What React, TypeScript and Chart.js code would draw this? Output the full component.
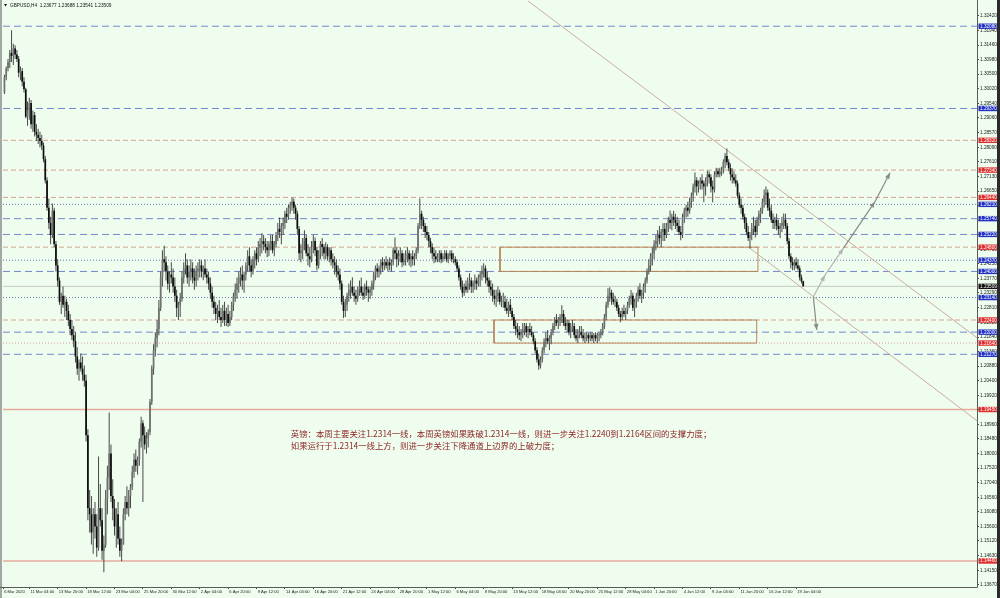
import { useEffect, useRef } from "react";
import { Chart, registerables } from "chart.js";

Chart.register(...registerables);
Chart.defaults.font.family = '"Liberation Sans", "DejaVu Sans", Arial, sans-serif';

// ---------------- DATA ----------------
const TITLE_TEXT = "GBPUSD,H4  1.23677 1.23688 1.23541 1.23509";

// bar index of the first candle (6 Mar 2020 20:00, H4 bars counted from 6 Mar 00:00)
const FIRST_BAR_INDEX = 5;
const FIRST_OPEN = 1.299;

const HIGHS = [
  1.3048,
  1.3075, 1.31, 1.313, 1.3195, 1.315, 1.3145,
  1.313, 1.311, 1.3075, 1.307, 1.304, 1.3005,
  1.296, 1.2972, 1.2965, 1.293, 1.2925, 1.2885,
  1.287, 1.286, 1.285, 1.2825, 1.278, 1.271,
  1.264, 1.258, 1.2624, 1.261, 1.25, 1.244,
  1.238, 1.233, 1.235, 1.232, 1.231, 1.229,
  1.226, 1.224, 1.222, 1.22, 1.215, 1.211,
  1.213, 1.212, 1.209, 1.206, 1.188, 1.168,
  1.166, 1.162, 1.164, 1.16, 1.179, 1.17,
  1.162, 1.153, 1.168, 1.176, 1.1935, 1.183,
  1.1715, 1.165, 1.162, 1.164, 1.156, 1.152,
  1.162, 1.166, 1.1692, 1.168, 1.17, 1.176,
  1.18, 1.1813, 1.179, 1.185, 1.1921, 1.191,
  1.1889, 1.187, 1.188, 1.198, 1.209, 1.216,
  1.22, 1.224, 1.2306, 1.24, 1.247, 1.2485,
  1.245, 1.242, 1.24, 1.243, 1.241, 1.238,
  1.234, 1.23, 1.233, 1.24, 1.243, 1.246,
  1.244, 1.242, 1.244, 1.243, 1.241, 1.242,
  1.243, 1.244, 1.2437, 1.242, 1.244, 1.241,
  1.24, 1.238, 1.235, 1.232, 1.23, 1.229,
  1.2306, 1.228, 1.229, 1.23, 1.228, 1.229,
  1.227, 1.23, 1.233, 1.236, 1.238, 1.24,
  1.2414, 1.242, 1.24, 1.243, 1.247, 1.248,
  1.244, 1.245, 1.247, 1.248, 1.25, 1.251,
  1.2526, 1.252, 1.251, 1.25, 1.25, 1.252,
  1.252, 1.25, 1.253, 1.256, 1.2578, 1.256,
  1.2578, 1.26, 1.261, 1.262, 1.263, 1.2644,
  1.264, 1.262, 1.26, 1.255, 1.249, 1.251,
  1.2536, 1.252, 1.249, 1.248, 1.25, 1.252,
  1.2512, 1.248, 1.247, 1.25, 1.251, 1.249,
  1.2496, 1.249, 1.248, 1.248, 1.246, 1.245,
  1.244, 1.242, 1.241, 1.237, 1.232, 1.231,
  1.233, 1.236, 1.237, 1.2381, 1.235, 1.234,
  1.235, 1.237, 1.238, 1.235, 1.236, 1.237,
  1.235, 1.235, 1.237, 1.24, 1.242, 1.2427,
  1.242, 1.244, 1.2447, 1.244, 1.245, 1.244,
  1.2447, 1.244, 1.248, 1.2512, 1.248, 1.247,
  1.248, 1.247, 1.246, 1.247, 1.248, 1.247,
  1.246, 1.247, 1.246, 1.248, 1.256, 1.264,
  1.26, 1.258, 1.256, 1.255, 1.253, 1.251,
  1.2493, 1.248, 1.247, 1.246, 1.247, 1.247,
  1.246, 1.247, 1.247, 1.246, 1.247, 1.247,
  1.246, 1.245, 1.244, 1.242, 1.239, 1.237,
  1.236, 1.237, 1.238, 1.2394, 1.238, 1.237,
  1.239, 1.238, 1.239, 1.24, 1.242, 1.2427,
  1.242, 1.24, 1.238, 1.2371, 1.236, 1.234,
  1.234, 1.235, 1.234, 1.232, 1.233, 1.232,
  1.231, 1.23, 1.231, 1.228, 1.226, 1.224,
  1.223, 1.222, 1.221, 1.223, 1.223, 1.223,
  1.222, 1.223, 1.222, 1.22, 1.218, 1.215,
  1.213, 1.212, 1.215, 1.218, 1.22, 1.2207,
  1.219, 1.221, 1.223, 1.225, 1.226, 1.225,
  1.226, 1.2289, 1.2273, 1.225, 1.224, 1.224,
  1.223, 1.224, 1.223, 1.221, 1.221, 1.222,
  1.222, 1.221, 1.22, 1.22, 1.2197, 1.22,
  1.22, 1.2197, 1.22, 1.2197, 1.22, 1.221,
  1.223, 1.226, 1.23, 1.2345, 1.2348, 1.234,
  1.233, 1.232, 1.231, 1.229, 1.227, 1.228,
  1.229, 1.228, 1.23, 1.232, 1.2339, 1.233,
  1.231, 1.233, 1.235, 1.2361, 1.234, 1.236,
  1.238, 1.241, 1.244, 1.246, 1.248, 1.2503,
  1.252, 1.2536, 1.255, 1.254, 1.2559, 1.256,
  1.256, 1.258, 1.2601, 1.259, 1.26, 1.259,
  1.258, 1.257, 1.255, 1.259, 1.261, 1.262,
  1.263, 1.2644, 1.266, 1.269, 1.2726, 1.271,
  1.27, 1.271, 1.272, 1.27, 1.271, 1.2733,
  1.273, 1.272, 1.27, 1.273, 1.2742, 1.274,
  1.2742, 1.2745, 1.277, 1.279, 1.2805, 1.277,
  1.2756, 1.274, 1.273, 1.272, 1.27, 1.266,
  1.264, 1.262, 1.259, 1.2578, 1.255, 1.253,
  1.256, 1.258, 1.257, 1.258, 1.2601, 1.261,
  1.264, 1.267, 1.268, 1.267, 1.264, 1.262,
  1.2591, 1.258, 1.259, 1.257, 1.256, 1.258,
  1.2591, 1.259, 1.256, 1.251, 1.246, 1.2447,
  1.244, 1.2447, 1.244, 1.242, 1.239, 1.2369,
];

const LOWS = [
  1.2985,
  1.303, 1.306, 1.307, 1.309, 1.308, 1.31,
  1.309, 1.304, 1.303, 1.301, 1.299, 1.2905,
  1.288, 1.29, 1.287, 1.286, 1.2845, 1.283,
  1.282, 1.2808, 1.28, 1.276, 1.269, 1.26,
  1.254, 1.249, 1.251, 1.248, 1.24, 1.235,
  1.229, 1.226, 1.228, 1.225, 1.224, 1.222,
  1.219, 1.2174, 1.215, 1.21, 1.206, 1.204,
  1.207, 1.204, 1.202, 1.184, 1.158, 1.154,
  1.15, 1.147, 1.152, 1.146, 1.148, 1.156,
  1.145, 1.1409, 1.149, 1.16, 1.168, 1.164,
  1.158, 1.153, 1.149, 1.15, 1.146, 1.1445,
  1.15, 1.158, 1.16, 1.1593, 1.162, 1.168,
  1.172, 1.174, 1.173, 1.176, 1.182, 1.164,
  1.1813, 1.18, 1.182, 1.186, 1.196, 1.206,
  1.212, 1.215, 1.219, 1.227, 1.235, 1.24,
  1.237, 1.234, 1.233, 1.236, 1.233, 1.23,
  1.225, 1.224, 1.225, 1.23, 1.236, 1.239,
  1.236, 1.235, 1.237, 1.236, 1.234, 1.235,
  1.237, 1.238, 1.238, 1.2371, 1.238, 1.236,
  1.234, 1.231, 1.228, 1.226, 1.224, 1.223,
  1.224, 1.2217, 1.223, 1.222, 1.222, 1.2217,
  1.222, 1.224, 1.227, 1.23, 1.231, 1.233,
  1.235, 1.234, 1.233, 1.237, 1.24, 1.24,
  1.2381, 1.239, 1.241, 1.242, 1.243, 1.245,
  1.246, 1.247, 1.246, 1.2447, 1.245, 1.247,
  1.246, 1.245, 1.248, 1.25, 1.251, 1.249,
  1.252, 1.254, 1.256, 1.257, 1.259, 1.26,
  1.259, 1.257, 1.252, 1.2437, 1.243, 1.244,
  1.247, 1.245, 1.242, 1.2414, 1.243, 1.246,
  1.245, 1.2404, 1.241, 1.244, 1.245, 1.244,
  1.244, 1.2437, 1.243, 1.242, 1.241, 1.239,
  1.2381, 1.237, 1.234, 1.229, 1.2247, 1.225,
  1.227, 1.23, 1.231, 1.232, 1.23, 1.229,
  1.23, 1.232, 1.232, 1.2306, 1.231, 1.232,
  1.23, 1.231, 1.232, 1.234, 1.2371, 1.238,
  1.238, 1.239, 1.24, 1.2404, 1.241, 1.24,
  1.2404, 1.24, 1.242, 1.244, 1.2414, 1.242,
  1.243, 1.2414, 1.242, 1.242, 1.243, 1.242,
  1.2414, 1.242, 1.242, 1.244, 1.246, 1.254,
  1.254, 1.253, 1.251, 1.2503, 1.248, 1.246,
  1.244, 1.2427, 1.243, 1.243, 1.243, 1.2427,
  1.243, 1.244, 1.243, 1.2427, 1.244, 1.243,
  1.2427, 1.242, 1.24, 1.237, 1.234, 1.2316,
  1.232, 1.233, 1.233, 1.234, 1.2329, 1.233,
  1.234, 1.234, 1.235, 1.235, 1.237, 1.238,
  1.236, 1.235, 1.233, 1.232, 1.23, 1.229,
  1.2283, 1.23, 1.229, 1.2283, 1.228, 1.227,
  1.226, 1.225, 1.226, 1.224, 1.221, 1.219,
  1.218, 1.2174, 1.217, 1.218, 1.219, 1.2184,
  1.218, 1.219, 1.2184, 1.216, 1.213, 1.21,
  1.2076, 1.208, 1.21, 1.213, 1.215, 1.216,
  1.2141, 1.216, 1.219, 1.2207, 1.222, 1.221,
  1.222, 1.223, 1.222, 1.2207, 1.22, 1.219,
  1.218, 1.22, 1.218, 1.217, 1.2164, 1.218,
  1.218, 1.217, 1.2164, 1.217, 1.2164, 1.217,
  1.217, 1.2164, 1.217, 1.2164, 1.217, 1.218,
  1.219, 1.221, 1.224, 1.228, 1.23, 1.229,
  1.229, 1.2283, 1.227, 1.225, 1.2233, 1.224,
  1.225, 1.224, 1.226, 1.228, 1.229, 1.227,
  1.225, 1.228, 1.23, 1.231, 1.2296, 1.231,
  1.233, 1.236, 1.239, 1.24, 1.242, 1.244,
  1.247, 1.248, 1.249, 1.248, 1.25, 1.25,
  1.251, 1.253, 1.254, 1.2536, 1.255, 1.254,
  1.253, 1.252, 1.2503, 1.251, 1.256, 1.2578,
  1.258, 1.259, 1.261, 1.263, 1.266, 1.265,
  1.266, 1.267, 1.267, 1.2628, 1.265, 1.268,
  1.269, 1.266, 1.2628, 1.266, 1.271, 1.271,
  1.271, 1.2715, 1.2723, 1.274, 1.275, 1.273,
  1.27, 1.269, 1.269, 1.268, 1.264, 1.261,
  1.259, 1.257, 1.254, 1.252, 1.25, 1.2476,
  1.2503, 1.252, 1.2512, 1.252, 1.255, 1.256,
  1.259, 1.261, 1.262, 1.26, 1.258, 1.256,
  1.254, 1.254, 1.2536, 1.252, 1.251, 1.253,
  1.254, 1.254, 1.249, 1.244, 1.241, 1.2404,
  1.2404, 1.241, 1.2404, 1.237, 1.236, 1.235,
];

const CLOSES = [
  1.304,
  1.307, 1.309, 1.312, 1.311, 1.3135, 1.3115,
  1.31, 1.3055, 1.306, 1.3025, 1.3, 1.291,
  1.293, 1.2955, 1.2885, 1.2915, 1.286, 1.285,
  1.284, 1.283, 1.2815, 1.277, 1.27, 1.261,
  1.256, 1.252, 1.26, 1.249, 1.242, 1.237,
  1.23, 1.232, 1.229, 1.23, 1.227, 1.224,
  1.221, 1.219, 1.217, 1.212, 1.208, 1.21,
  1.208, 1.206, 1.204, 1.186, 1.162, 1.16,
  1.154, 1.16, 1.156, 1.149, 1.162, 1.158,
  1.148, 1.15, 1.165, 1.172, 1.18, 1.166,
  1.162, 1.156, 1.16, 1.152, 1.148, 1.15,
  1.16, 1.164, 1.162, 1.166, 1.169, 1.174,
  1.178, 1.176, 1.178, 1.184, 1.19, 1.186,
  1.183, 1.185, 1.187, 1.197, 1.208, 1.214,
  1.218, 1.221, 1.228, 1.238, 1.244, 1.243,
  1.24, 1.236, 1.239, 1.238, 1.235, 1.232,
  1.228, 1.229, 1.231, 1.238, 1.241, 1.242,
  1.238, 1.24, 1.241, 1.238, 1.237, 1.24,
  1.241, 1.242, 1.24, 1.241, 1.239, 1.238,
  1.236, 1.233, 1.23, 1.228, 1.226, 1.227,
  1.225, 1.224, 1.227, 1.224, 1.226, 1.223,
  1.225, 1.229, 1.232, 1.234, 1.236, 1.238,
  1.239, 1.237, 1.239, 1.242, 1.245, 1.242,
  1.24, 1.244, 1.246, 1.244, 1.248, 1.249,
  1.25, 1.249, 1.248, 1.247, 1.249, 1.25,
  1.247, 1.249, 1.252, 1.254, 1.253, 1.255,
  1.256, 1.259, 1.258, 1.261, 1.262, 1.263,
  1.261, 1.259, 1.254, 1.246, 1.247, 1.25,
  1.251, 1.246, 1.245, 1.244, 1.248, 1.25,
  1.247, 1.242, 1.246, 1.249, 1.248, 1.246,
  1.248, 1.245, 1.247, 1.244, 1.243, 1.242,
  1.24, 1.239, 1.236, 1.23, 1.227, 1.229,
  1.232, 1.234, 1.235, 1.233, 1.232, 1.231,
  1.234, 1.235, 1.233, 1.232, 1.235, 1.234,
  1.233, 1.234, 1.236, 1.239, 1.241, 1.24,
  1.241, 1.243, 1.242, 1.243, 1.242, 1.243,
  1.242, 1.243, 1.247, 1.246, 1.244, 1.245,
  1.246, 1.243, 1.244, 1.245, 1.246, 1.244,
  1.245, 1.244, 1.245, 1.247, 1.255, 1.259,
  1.257, 1.255, 1.253, 1.252, 1.25, 1.248,
  1.246, 1.245, 1.244, 1.245, 1.246, 1.244,
  1.245, 1.246, 1.244, 1.245, 1.246, 1.244,
  1.244, 1.243, 1.241, 1.238, 1.235, 1.233,
  1.235, 1.234, 1.236, 1.237, 1.235, 1.236,
  1.237, 1.236, 1.238, 1.239, 1.24, 1.241,
  1.238, 1.237, 1.235, 1.234, 1.232, 1.231,
  1.232, 1.233, 1.23, 1.23, 1.23, 1.228,
  1.227, 1.229, 1.227, 1.225, 1.222, 1.221,
  1.22, 1.219, 1.22, 1.221, 1.222, 1.22,
  1.221, 1.22, 1.219, 1.217, 1.214, 1.211,
  1.209, 1.211, 1.214, 1.217, 1.218, 1.217,
  1.218, 1.22, 1.222, 1.224, 1.223, 1.224,
  1.225, 1.226, 1.223, 1.222, 1.223, 1.22,
  1.221, 1.222, 1.219, 1.218, 1.219, 1.22,
  1.219, 1.218, 1.218, 1.219, 1.218, 1.219,
  1.218, 1.219, 1.218, 1.219, 1.219, 1.22,
  1.222, 1.225, 1.229, 1.232, 1.233, 1.231,
  1.23, 1.23, 1.228, 1.226, 1.225, 1.227,
  1.226, 1.227, 1.229, 1.231, 1.232, 1.228,
  1.23, 1.232, 1.234, 1.232, 1.233, 1.235,
  1.237, 1.24, 1.242, 1.245, 1.246, 1.249,
  1.25, 1.252, 1.251, 1.253, 1.254, 1.252,
  1.255, 1.257, 1.256, 1.258, 1.257, 1.256,
  1.255, 1.253, 1.252, 1.258, 1.26, 1.261,
  1.26, 1.263, 1.265, 1.268, 1.27, 1.268,
  1.269, 1.27, 1.269, 1.268, 1.27, 1.272,
  1.271, 1.268, 1.267, 1.272, 1.273, 1.272,
  1.273, 1.2735, 1.276, 1.278, 1.276, 1.274,
  1.272, 1.271, 1.27, 1.269, 1.265, 1.262,
  1.261, 1.258, 1.256, 1.253, 1.251, 1.252,
  1.254, 1.255, 1.253, 1.257, 1.259, 1.26,
  1.263, 1.265, 1.266, 1.261, 1.26, 1.257,
  1.256, 1.257, 1.255, 1.254, 1.255, 1.256,
  1.257, 1.255, 1.25, 1.245, 1.243, 1.242,
  1.243, 1.242, 1.241, 1.238, 1.2368, 1.2351,
];

// x-axis: tick positions (bar index) and their labels
const X_TICK_POS = [4.18, 19, 35, 51, 67, 83, 99, 115, 131, 147, 163, 179, 195, 211, 227, 243, 259, 275, 291, 307, 323, 339, 355, 371, 387, 403, 419, 435, 451];
const X_TICK_LABELS = [
  "6 Mar 2020", "11 Mar 04:00", "13 Mar 20:00", "18 Mar 12:00", "23 Mar 04:00", "25 Mar 20:00",
  "30 Mar 12:00", "2 Apr 04:00", "6 Apr 20:00", "9 Apr 12:00", "14 Apr 04:00", "16 Apr 20:00",
  "21 Apr 12:00", "24 Apr 04:00", "28 Apr 20:00", "1 May 12:00", "6 May 04:00", "8 May 20:00",
  "13 May 12:00", "18 May 04:00", "20 May 20:00", "25 May 12:00", "28 May 04:00", "1 Jun 20:00",
  "4 Jun 12:00", "9 Jun 04:00", "11 Jun 20:00", "16 Jun 12:00", "19 Jun 04:00",
];

// price axis tick values
const Y_TICK_VALUES = [
  1.3242, 1.3194, 1.3146, 1.3098, 1.305, 1.3002, 1.2954, 1.2906, 1.2857, 1.2809,
  1.2761, 1.2713, 1.2665, 1.2617, 1.2569, 1.2521, 1.2473, 1.2425, 1.2377, 1.2329,
  1.2281, 1.2232, 1.2184, 1.2136, 1.2088, 1.204, 1.1992, 1.1944, 1.1896, 1.1848,
  1.18, 1.1752, 1.1704, 1.1656, 1.1608, 1.156, 1.1512, 1.1463, 1.1415, 1.1367,
];

// horizontal support / resistance levels
const LEVEL_PRICES = [
  1.3208, 1.2937, 1.2832, 1.2734, 1.2644, 1.2621, 1.2574, 1.2522, 1.248,
  1.2437, 1.24, 1.2314, 1.224, 1.22, 1.2164, 1.2127, 1.1945, 1.1446,
];
const LEVEL_KINDS = [
  "blueDash", "blueDash", "redDash", "redDash", "redDash", "blueDot", "blueDash", "blueDash", "redDash",
  "blueDot", "blueDash", "blueDot", "redDash", "blueDash", "redDot", "blueDash", "redSolid", "redSolid",
];
const BID_PRICE = 1.23509;

// zones (bar index from/to, price from/to)
const ZONE_X0 = [284.2, 280.8];
const ZONE_X1 = [429.5, 428.8];
const ZONE_P0 = [1.24, 1.2164];
const ZONE_P1 = [1.248, 1.224];

// channel lines (bar index / price pairs)
const UPPER_LINE_X = [299.2, 552.9];
const UPPER_LINE_P = [1.32944, 1.21815];
const LOWER_LINE_X = [425.0, 552.9];
const LOWER_LINE_P = [1.24762, 1.19079];

// projection arrows
const ARROW_UP_X = [460.7, 467.3, 477.6, 495.4, 503.9];
const ARROW_UP_P = [1.23168, 1.23883, 1.24762, 1.26298, 1.27253];
const ARROW_DOWN_X = [460.7, 462.6];
const ARROW_DOWN_P = [1.23168, 1.22071];

// comment text
const NOTE_LINES = [
  "英镑：本周主要关注1.2314一线，本周英镑如果跌破1.2314一线，则进一步关注1.2240到1.2164区间的支撑力度；",
  "如果运行于1.2314一线上方，则进一步关注下降通道上边界的上破力度；",
];
const NOTE_X = 166.3;
const NOTE_P = [1.18644, 1.18248];

// view window
const X_MIN = 4.18;
const X_MAX = 552.9;
const Y_MIN = 1.13603;
const Y_MAX = 1.32911;

// ---------------- STYLE ----------------
const BG = "#effdef";
const LEVEL_STYLE: Record<string, { color: string; dash: number[]; width: number; box: string }> = {
  blueDash: { color: "#7487c9", dash: [7, 4], width: 1, box: "#2232c4" },
  blueDot: { color: "#6676b8", dash: [1, 2], width: 1, box: "#2232c4" },
  redDash: { color: "#d6a38e", dash: [5, 3], width: 1, box: "#de2d2d" },
  redDot: { color: "#d99c92", dash: [1, 2], width: 1, box: "#de2d2d" },
  redSolid: { color: "#e6aa9c", dash: [], width: 1.6, box: "#de2d2d" },
};
const SMALL_FONT = '4.7px "Liberation Sans", Arial, sans-serif';

function drawHead(ctx: CanvasRenderingContext2D, x0: number, y0: number, x1: number, y1: number, color: string) {
  const a = Math.atan2(y1 - y0, x1 - x0);
  const L = 6;
  const W = 2.4;
  ctx.fillStyle = color;
  ctx.beginPath();
  ctx.moveTo(x1, y1);
  ctx.lineTo(x1 - L * Math.cos(a) + W * Math.sin(a), y1 - L * Math.sin(a) - W * Math.cos(a));
  ctx.lineTo(x1 - L * Math.cos(a) - W * Math.sin(a), y1 - L * Math.sin(a) + W * Math.cos(a));
  ctx.closePath();
  ctx.fill();
}

const decorPlugin = {
  id: "decor",
  beforeDraw(chart: any) {
    const { ctx, width, height } = chart;
    ctx.save();
    ctx.fillStyle = BG;
    ctx.fillRect(0, 0, width, height);
    ctx.fillStyle = "#a4a8a4";
    ctx.fillRect(0, 0, 2, height);
    ctx.fillStyle = "#2b2b2b";
    ctx.fillRect(width - 3, 0, 3, height);
    ctx.restore();
  },
  afterDatasetsDraw(chart: any) {
    const { ctx, chartArea } = chart;
    const xs = chart.scales.x;
    const ys = chart.scales.y;
    ctx.save();
    // arrow heads
    const upColors = ["#b4b4b4", "#b4b4b4", "#8a8a8a", "#8a8a8a"];
    for (let k = 1; k < ARROW_UP_X.length; k++) {
      drawHead(
        ctx,
        xs.getPixelForValue(ARROW_UP_X[k - 1]), ys.getPixelForValue(ARROW_UP_P[k - 1]),
        xs.getPixelForValue(ARROW_UP_X[k]), ys.getPixelForValue(ARROW_UP_P[k]),
        upColors[k - 1]
      );
    }
    drawHead(
      ctx,
      xs.getPixelForValue(ARROW_DOWN_X[0]), ys.getPixelForValue(ARROW_DOWN_P[0]),
      xs.getPixelForValue(ARROW_DOWN_X[1]), ys.getPixelForValue(ARROW_DOWN_P[1]),
      "#8a8a8a"
    );
    // note text
    ctx.fillStyle = "#8e2727";
    ctx.font = '8.4px "Noto Sans CJK SC", sans-serif';
    ctx.textBaseline = "middle";
    ctx.textAlign = "left";
    NOTE_LINES.forEach((t, k) => {
      ctx.fillText(t, xs.getPixelForValue(NOTE_X), ys.getPixelForValue(NOTE_P[k]));
    });
    // title
    ctx.fillStyle = "#111";
    ctx.beginPath();
    ctx.moveTo(chartArea.left + 1, 4);
    ctx.lineTo(chartArea.left + 4, 4);
    ctx.lineTo(chartArea.left + 2.5, 6.5);
    ctx.closePath();
    ctx.fill();
    ctx.font = SMALL_FONT;
    ctx.fillText(TITLE_TEXT, chartArea.left + 7, 5.3);
    ctx.restore();
  },
  afterDraw(chart: any) {
    const { ctx, chartArea, width } = chart;
    const ys = chart.scales.y;
    ctx.save();
    ctx.strokeStyle = "#5a5a5a";
    ctx.lineWidth = 1;
    ctx.beginPath();
    ctx.moveTo(chartArea.right + 0.5, 0);
    ctx.lineTo(chartArea.right + 0.5, chartArea.bottom + 0.5);
    ctx.lineTo(0, chartArea.bottom + 0.5);
    ctx.stroke();
    // level tags on the price axis
    const x0 = chartArea.right + 1.5;
    const w = width - 3 - x0;
    const tag = (p: number, color: string) => {
      const y = ys.getPixelForValue(p);
      ctx.fillStyle = color;
      ctx.fillRect(x0, y - 2.7, w, 5.4);
      ctx.fillStyle = "#ffffff";
      ctx.font = SMALL_FONT;
      ctx.textBaseline = "middle";
      ctx.textAlign = "left";
      ctx.fillText(p.toFixed(5), x0 + 1.5, y + 0.2);
    };
    LEVEL_PRICES.forEach((p, k) => tag(p, LEVEL_STYLE[LEVEL_KINDS[k]].box));
    tag(BID_PRICE, "#111111");
    ctx.restore();
  },
};

export default function App() {
  const ref = useRef<HTMLCanvasElement | null>(null);

  useEffect(() => {
    if (!ref.current) return;
    const n = Math.min(HIGHS.length, LOWS.length, CLOSES.length);
    const opens: number[] = [];
    for (let k = 0; k < n; k++) opens.push(k === 0 ? FIRST_OPEN : CLOSES[k - 1]);
    const wicks = [];
    const bodies = [];
    const bodyColors: string[] = [];
    for (let k = 0; k < n; k++) {
      wicks.push({ x: FIRST_BAR_INDEX + k, y: [LOWS[k], HIGHS[k]] });
      bodies.push({ x: FIRST_BAR_INDEX + k, y: [opens[k], CLOSES[k]] });
      bodyColors.push(CLOSES[k] >= opens[k] ? "#6f726f" : "#0c0c0c");
    }

    const lineBase = { type: "line", pointRadius: 0, pointHoverRadius: 0, tension: 0, fill: false };
    const datasets: any[] = [];

    LEVEL_PRICES.forEach((p, k) => {
      const st = LEVEL_STYLE[LEVEL_KINDS[k]];
      datasets.push({
        ...lineBase,
        data: [{ x: X_MIN, y: p }, { x: X_MAX, y: p }],
        borderColor: st.color,
        borderDash: st.dash,
        borderWidth: st.width,
        order: 10,
      });
    });
    datasets.push({
      ...lineBase,
      data: [{ x: X_MIN, y: BID_PRICE }, { x: X_MAX, y: BID_PRICE }],
      borderColor: "#c6c9c6",
      borderWidth: 1,
      order: 10,
    });
    ZONE_X0.forEach((x0, k) => {
      const x1 = ZONE_X1[k];
      const p0 = ZONE_P0[k];
      const p1 = ZONE_P1[k];
      datasets.push({
        ...lineBase,
        data: [{ x: x0, y: p0 }, { x: x1, y: p0 }, { x: x1, y: p1 }, { x: x0, y: p1 }, { x: x0, y: p0 }],
        borderColor: "#b7865c",
        borderWidth: 1,
        order: 8,
      });
    });
    datasets.push({
      ...lineBase,
      data: UPPER_LINE_X.map((x, k) => ({ x, y: UPPER_LINE_P[k] })),
      borderColor: "#c9ad9f",
      borderWidth: 1,
      order: 7,
    });
    datasets.push({
      ...lineBase,
      data: LOWER_LINE_X.map((x, k) => ({ x, y: LOWER_LINE_P[k] })),
      borderColor: "#c9ad9f",
      borderWidth: 1,
      order: 7,
    });
    const upColors = ["#b4b4b4", "#b4b4b4", "#8a8a8a", "#8a8a8a"];
    for (let k = 1; k < ARROW_UP_X.length; k++) {
      datasets.push({
        ...lineBase,
        data: [{ x: ARROW_UP_X[k - 1], y: ARROW_UP_P[k - 1] }, { x: ARROW_UP_X[k], y: ARROW_UP_P[k] }],
        borderColor: upColors[k - 1],
        borderWidth: 1.2,
        order: 6,
      });
    }
    datasets.push({
      ...lineBase,
      data: ARROW_DOWN_X.map((x, k) => ({ x, y: ARROW_DOWN_P[k] })),
      borderColor: "#8a8a8a",
      borderWidth: 1.2,
      order: 6,
    });
    datasets.push({
      type: "bar",
      data: wicks,
      backgroundColor: "#474947",
      barThickness: 1,
      grouped: false,
      inflateAmount: 0,
      borderWidth: 0,
      order: 2,
    });
    datasets.push({
      type: "bar",
      data: bodies,
      backgroundColor: bodyColors,
      barThickness: 1.7,
      minBarLength: 1,
      grouped: false,
      inflateAmount: 0,
      borderWidth: 0,
      order: 1,
    });

    const chart = new Chart(ref.current, {
      type: "bar",
      data: { datasets },
      plugins: [decorPlugin],
      options: {
        responsive: false,
        animation: false,
        events: [],
        layout: { padding: { left: 3, top: 1, right: 0, bottom: 0 } },
        plugins: { legend: { display: false }, tooltip: { enabled: false }, title: { display: false } },
        scales: {
          x: {
            type: "linear",
            min: X_MIN,
            max: X_MAX,
            offset: false,
            border: { display: false },
            grid: { display: true, drawOnChartArea: false, drawTicks: true, tickLength: 2, color: "#444", offset: false },
            ticks: {
              autoSkip: false,
              maxRotation: 0,
              minRotation: 0,
              align: "start",
              padding: 0,
              color: "#222",
              font: { size: 4.1 },
              callback: (_v: any, i: number) => " " + (X_TICK_LABELS[i] ?? ""),
            },
            afterBuildTicks: (s: any) => {
              s.ticks = X_TICK_POS.map((v) => ({ value: v }));
            },
            afterFit: (s: any) => {
              s.height = 11;
              s.paddingLeft = 0;
              s.paddingRight = 0;
            },
          },
          y: {
            type: "linear",
            position: "right",
            min: Y_MIN,
            max: Y_MAX,
            border: { display: false },
            grid: { display: true, drawOnChartArea: false, drawTicks: true, tickLength: 2, color: "#444" },
            ticks: {
              autoSkip: false,
              padding: 1,
              color: "#222",
              font: { size: 4.7 },
              callback: (v: any) => Number(v).toFixed(5),
            },
            afterBuildTicks: (s: any) => {
              s.ticks = Y_TICK_VALUES.map((v) => ({ value: v }));
            },
            afterFit: (s: any) => {
              s.width = 23;
              s.paddingTop = 0;
              s.paddingBottom = 0;
            },
          },
        },
      } as any,
    });
    return () => chart.destroy();
  }, []);

  return (
    <div style={{ position: "fixed", left: 0, top: 0, width: 1000, height: 598, overflow: "hidden" }}>
      <canvas ref={ref} width={1000} height={598} style={{ display: "block", width: 1000, height: 598 }} />
    </div>
  );
}
